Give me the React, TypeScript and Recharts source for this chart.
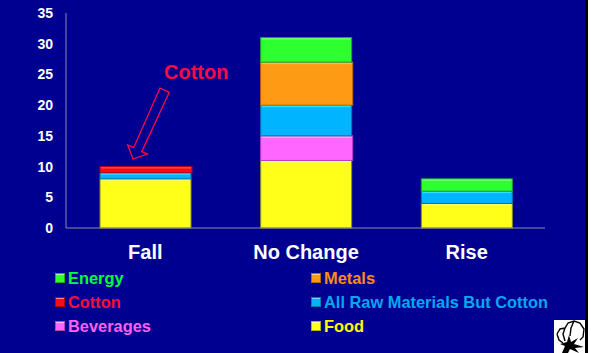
import React from 'react';
import { BarChart, Bar, XAxis, YAxis } from 'recharts';

const categories = ['Fall', 'No Change', 'Rise'];
const food = [8, 11, 4];
const beverages = [0, 4, 0];
const rawMaterials = [1, 5, 2];
const cotton = [1, 0, 0];
const metals = [0, 7, 0];
const energy = [0, 4, 2];
const yTicks = [0, 5, 10, 15, 20, 25, 30, 35];

const chartData = categories.map((name, i) => ({
  name,
  food: food[i],
  beverages: beverages[i],
  rawMaterials: rawMaterials[i],
  cotton: cotton[i],
  metals: metals[i],
  energy: energy[i],
}));

const FONT = '"Liberation Sans", Arial, sans-serif';
const NAVY = '#000090';

// bottom to top of each stack; overhang makes some segments a touch wider
const stackSeries = [
  { key: 'food', fill: '#ffff1a', light: '#ffff66', dark: '#8a8a30', overhang: 0 },
  { key: 'beverages', fill: '#ff66ff', light: '#ffa8f5', dark: '#b040c0', overhang: 1 },
  { key: 'rawMaterials', fill: '#00b4ff', light: '#30e0ff', dark: '#0078a8', overhang: 0 },
  { key: 'cotton', fill: '#ff0a14', light: '#ff4040', dark: '#b00020', overhang: 1 },
  { key: 'metals', fill: '#ff9a14', light: '#ffc040', dark: '#c06c10', overhang: 1 },
  { key: 'energy', fill: '#2eff2e', light: '#70ff70', dark: '#20a040', overhang: 0 },
];

// legend reads across, two columns
const legendItems = [
  { label: 'Energy', text: '#00ff40', box: '#2eff2e' },
  { label: 'Metals', text: '#ff8c14', box: '#ff9a14' },
  { label: 'Cotton', text: '#ff0a40', box: '#ff0a14' },
  { label: 'All Raw Materials But Cotton', text: '#00a8f0', box: '#00b4ff' },
  { label: 'Beverages', text: '#ff60f0', box: '#ff66ff' },
  { label: 'Food', text: '#ffff00', box: '#ffff1a' },
];

// bevelled block: flat fill, lighter top edge, darker outline
const BevelBar = (props: any) => {
  const { x, y, width, height, fill, light, dark, overhang } = props;
  if (!height || height <= 0) return null;
  return (
    <g>
      <rect x={x} y={y} width={width + overhang} height={height} fill={fill} stroke={dark} strokeWidth={1} />
      <rect x={x + 1} y={y + 0.5} width={width + overhang - 2} height={Math.min(1.5, height / 2)} fill={light} />
    </g>
  );
};

const LegendGrid = () => (
  <div
    style={{
      position: 'absolute',
      left: 55,
      top: 269,
      display: 'grid',
      gridTemplateColumns: '256px 270px',
      rowGap: 6,
      fontFamily: FONT,
    }}
  >
    {legendItems.map((item) => (
      <div key={item.label} style={{ display: 'flex', alignItems: 'center', height: 18, whiteSpace: 'nowrap' }}>
        <span
          style={{
            boxSizing: 'border-box',
            width: 10,
            height: 10,
            marginRight: 3,
            background: item.box,
            border: '1px solid rgba(0,0,0,0.3)',
            boxShadow: 'inset 0 1px 0 rgba(255,255,255,0.5)',
          }}
        />
        <span style={{ color: item.text, fontSize: 16.4, fontWeight: 700 }}>{item.label}</span>
      </div>
    ))}
  </div>
);

// small cotton boll emblem in the bottom corner
const CottonBoll = () => (
  <svg width={31} height={33} viewBox="0 0 31 33" style={{ position: 'absolute', left: 554, top: 320, background: '#fff' }}>
    <path
      d="M3 14 L6 9 L11 8 L14 3 L20 1 L26 3 L30 9 L29 17 L26 20 M3 14 L5 20 L9 23 M11 8 L9 14 L11 21 M20 1 L17 8 L16 16"
      fill="none"
      stroke="#000"
      strokeWidth={1.4}
    />
    <path
      d="M8 33 L11 26 L6 24 L13 22 L15 15 L17 22 L24 18 L20 24 L30 27 L21 28 L25 33 L16 29 L14 33 Z"
      fill="#000"
    />
  </svg>
);

export default function App() {
  return (
    <div style={{ position: 'absolute', left: 0, top: 0, width: 591, height: 353, background: '#fff', overflow: 'hidden' }}>
      <div style={{ position: 'absolute', left: 0, top: 0, width: 585, height: 353, background: NAVY, borderRight: '3px solid #000' }} />
      <BarChart
        width={585}
        height={353}
        data={chartData}
        margin={{ top: 13, right: 40, bottom: 95, left: 0 }}
        barCategoryGap={0}
        style={{ position: 'absolute', left: 0, top: 0 }}
      >
        <YAxis
          type="number"
          domain={[0, 35]}
          ticks={yTicks}
          width={66}
          interval={0}
          axisLine={{ stroke: '#8c8c9c', strokeWidth: 1 }}
          tickLine={false}
          tickMargin={7}
          tick={{ fill: '#ffffff', fontSize: 14, fontWeight: 700, fontFamily: FONT }}
        />
        <XAxis
          dataKey="name"
          height={30}
          padding={{ left: -1, right: -2 }}
          axisLine={{ stroke: '#8c8c9c', strokeWidth: 1 }}
          tickLine={false}
          tickMargin={11}
          tick={{ fill: '#ffffff', fontSize: 20, fontWeight: 700, fontFamily: FONT }}
        />
        {stackSeries.map((s) => (
          <Bar
            key={s.key}
            dataKey={s.key}
            stackId="a"
            barSize={91}
            isAnimationActive={false}
            fill={s.fill}
            shape={<BevelBar light={s.light} dark={s.dark} overhang={s.overhang} />}
          />
        ))}
      </BarChart>
      <LegendGrid />
      {/* callout over the Fall bar */}
      <svg width={585} height={353} style={{ position: 'absolute', left: 0, top: 0, pointerEvents: 'none' }}>
        <text x={164} y={79} fill="#ff0a40" fontSize={20} fontWeight={700} fontFamily={FONT}>
          Cotton
        </text>
        <polygon
          points="160,88 169.3,92.3 141.7,151.7 147.3,154 133,159 127.7,145 133.7,147.7"
          fill="none"
          stroke="#ff0a40"
          strokeWidth={1.3}
        />
      </svg>
      <CottonBoll />
    </div>
  );
}
